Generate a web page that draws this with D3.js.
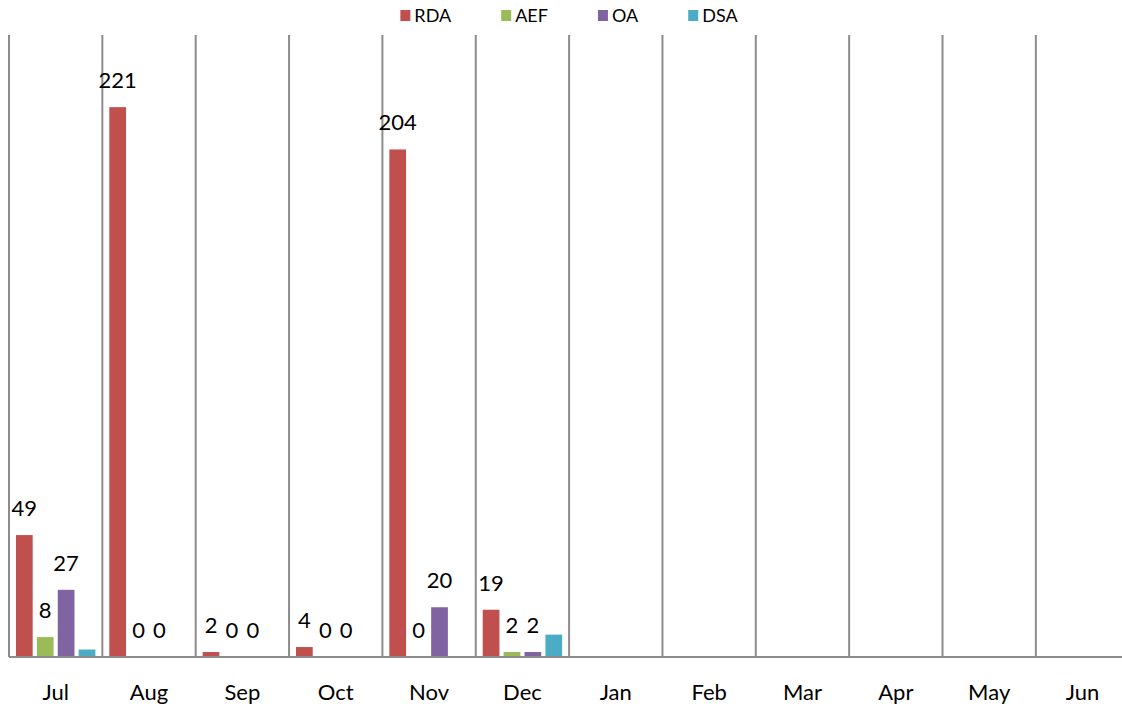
<!DOCTYPE html>
<html>
<head>
<meta charset="utf-8">
<script src="https://cdn.jsdelivr.net/npm/d3@7"></script>
<style>
	body { margin: 0; background: #fff; overflow: hidden; }
	text { font-family: Lato, "Liberation Sans", sans-serif; fill: #000; }
</style>
</head>
<body>
<svg id="chart" width="1122" height="710"></svg>
<script>
// chart data
var months = ["Jul", "Aug", "Sep", "Oct", "Nov", "Dec", "Jan", "Feb", "Mar", "Apr", "May", "Jun"];
var seriesNames = ["RDA", "AEF", "OA", "DSA"];
var seriesColors = ["#c0504d", "#9bbb59", "#8064a2", "#4bacc6"];
var rda = [49, 221, 2, 4, 204, 19, null, null, null, null, null, null];
var aef = [8, 0, 0, 0, 0, 2, null, null, null, null, null, null];
var oa  = [27, 0, 0, 0, 20, 2, null, null, null, null, null, null];
var dsa = [3, 0, 0, 0, 0, 9, null, null, null, null, null, null];
var showLabel = [true, true, true, false]; // DSA has no data labels
var yMax = 250;

var svg = d3.select("#chart");
// note: "top" is taken by window.top, so plotTop / plotBottom
var plotLeft = 9, plotRight = 9 + 12 * 93.35;
var plotTop = 35, plotBottom = 657;

var x = d3.scaleBand().domain(months).range([plotLeft, plotRight]).padding(0);
var sub = d3.scaleBand().domain(seriesNames).range([0, x.bandwidth()])
	.paddingInner(0.2).paddingOuter(0.333);
var y = d3.scaleLinear().domain([0, yMax]).range([plotBottom, plotTop]);

// vertical gridlines at category boundaries
var bounds = months.map(function(m) { return x(m); }).concat([plotRight]);
svg.append("g").selectAll("line").data(bounds).enter().append("line")
	.attr("x1", function(d) { return d; })
	.attr("x2", function(d) { return d; })
	.attr("y1", plotTop)
	.attr("y2", plotBottom)
	.attr("stroke", "#8c8c8c")
	.attr("stroke-width", 2);

// build flat list of bars
var allSeries = [rda, aef, oa, dsa];
var bars = [];
allSeries.forEach(function(vals, si) {
	vals.forEach(function(v, mi) {
		if (v === null) return;
		bars.push({ month: months[mi], series: seriesNames[si], si: si, value: v });
	});
});

svg.append("g").selectAll("rect").data(bars).enter().append("rect")
	.attr("x", function(d) { return x(d.month) + sub(d.series); })
	.attr("y", function(d) { return y(d.value); })
	.attr("width", sub.bandwidth())
	.attr("height", function(d) { return y(0) - y(d.value); })
	.attr("fill", function(d) { return seriesColors[d.si]; });

// baseline
svg.append("line")
	.attr("x1", plotLeft).attr("x2", 1122)
	.attr("y1", plotBottom).attr("y2", plotBottom)
	.attr("stroke", "#8c8c8c")
	.attr("stroke-width", 2);

// data labels
svg.append("g").selectAll("text").data(bars.filter(function(d) { return showLabel[d.si]; }))
	.enter().append("text")
	.attr("x", function(d) { return x(d.month) + sub(d.series) + sub.bandwidth() / 2; })
	.attr("y", function(d) { return y(d.value) - 19; })
	.attr("text-anchor", "middle")
	.style("font-size", "22px")
	.text(function(d) { return d.value; });

// month labels
svg.append("g").selectAll("text").data(months).enter().append("text")
	.attr("x", function(d) { return x(d) + x.bandwidth() / 2; })
	.attr("y", 700)
	.attr("text-anchor", "middle")
	.style("font-size", "22px")
	.text(function(d) { return d; });

// legend, centred over the plot
var legend = svg.append("g");
var items = legend.selectAll("g").data(seriesNames).enter().append("g");
items.append("rect")
	.attr("width", 10).attr("height", 11)
	.attr("y", 10)
	.attr("fill", function(d, i) { return seriesColors[i]; });
items.append("text")
	.attr("x", 14).attr("y", 21.5)
	.style("font-size", "18px")
	.text(function(d) { return d; });

var gap = 50;
var pos = 0;
items.each(function() {
	var g = d3.select(this);
	var w = 14 + g.select("text").node().getComputedTextLength();
	g.attr("transform", "translate(" + pos + ",0)");
	pos += w + gap;
});
var totalW = pos - gap;
legend.attr("transform", "translate(" + (569 - totalW / 2) + ",0)");
</script>
</body>
</html>
